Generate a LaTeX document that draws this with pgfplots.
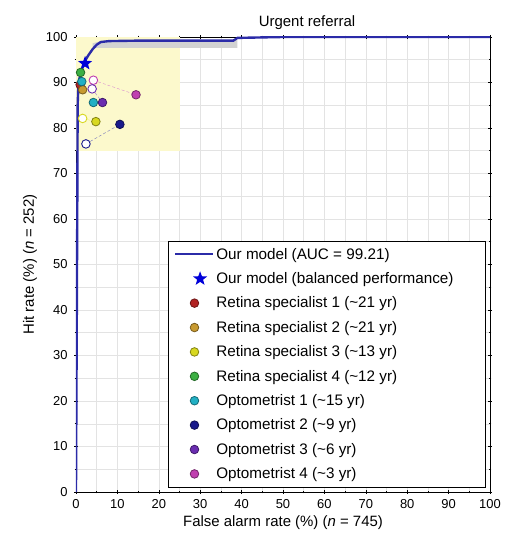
\documentclass[border=0pt]{standalone}
\usepackage{fontspec}
\setmainfont{Liberation Sans}
\usepackage{pgfplots}
\pgfplotsset{compat=1.18}
\usetikzlibrary{shapes.geometric,calc}

\definecolor{roc}{HTML}{2B2BA8}
\definecolor{rs1}{HTML}{B22222}
\definecolor{rs2}{HTML}{C89A30}
\definecolor{rs3}{HTML}{D8D820}
\definecolor{rs4}{HTML}{3CB043}
\definecolor{op1}{HTML}{22B0C4}
\definecolor{op2}{HTML}{1A1A8C}
\definecolor{op3}{HTML}{6A2DB0}
\definecolor{op4}{HTML}{C040B0}
\definecolor{inset}{HTML}{FCF9CC}

\pgfdeclareplotmark{fstar}{%
  \node[star,star points=5,star point ratio=2.4,minimum size=15pt,
        inner sep=0pt,draw=none,fill=blue!85!black]{};}

\pgfplotsset{
  expert/.style={only marks,mark=*,mark size=4.3pt,
    mark options={fill=#1,draw=#1!60!black,line width=0.8pt}},
  openexp/.style={only marks,mark=*,mark size=4.3pt,forget plot,
    mark options={fill=white,draw=#1,line width=0.9pt}},
  link/.style={densely dashed,thin,#1!60,forget plot},
}

\begin{document}
\begin{tikzpicture}[x=1bp,y=1bp]
\begin{axis}[
  scale only axis,
  width=414bp, height=455bp,
  xmin=0, xmax=100, ymin=0, ymax=100,
  xtick={0,10,...,100}, ytick={0,10,...,100},
  minor tick num=1,
  grid=both,
  major grid style={gray!22, line width=0.5pt},
  minor grid style={gray!22, line width=0.5pt},
  tick align=center,
  major tick length=4pt, minor tick length=3pt,
  tick style={black, line width=0.6pt},
  axis line style={black, line width=0.6pt},
  tick label style={font=\fontsize{13}{15}\selectfont},
  xticklabel style={yshift=-2bp},
  yticklabel style={xshift=-3bp},
  /pgf/number format/assume math mode=true,
  title={Urgent referral},
  title style={font=\fontsize{15}{17}\selectfont, xshift=24bp, yshift=-2bp},
  xlabel={False alarm rate (\%) (\textit{n} = 745)},
  ylabel={Hit rate (\%) (\textit{n} = 252)},
  label style={font=\fontsize{15}{17}\selectfont},
  ylabel style={yshift=2bp},
  legend cell align=left,
  legend style={at={(0.99,0.01)}, anchor=south east,
    draw=black, line width=0.6pt, fill=white,
    font=\fontsize{15.3}{17}\selectfont,
    row sep=7.9pt, inner xsep=6pt, inner ysep=5pt},
  legend image code/.code={%
    \draw[mark repeat=2,mark phase=2,#1]
      plot coordinates {(0bp,0bp) (19bp,0bp) (38bp,0bp)};},
  legend image post style={line width=1.8pt},
]
% inset region and confidence band
\addplot[fill=inset, draw=none, forget plot] coordinates {(0,75) (25,75) (25,100) (0,100)} -- cycle;
\addplot[fill=gray!35, draw=none, forget plot] coordinates {(4,97.6) (39,97.6) (39,99.3) (6,99.1) (4,98.6)} -- cycle;

% links between paired reads
\addplot[link=op4] coordinates {(4.2,90.5) (14.5,87.3)};
\addplot[link=op2] coordinates {(2.4,76.5) (10.6,80.8)};
\addplot[link=rs3] coordinates {(1.6,82.1) (4.8,81.4)};
\addplot[link=op3] coordinates {(3.9,88.6) (6.4,85.6)};

% open markers
\addplot[openexp=op4] coordinates {(4.2,90.5)};
\addplot[openexp=op3] coordinates {(3.9,88.6)};
\addplot[openexp=rs3] coordinates {(1.6,82.1)};
\addplot[openexp=op2] coordinates {(2.4,76.5)};

% ROC curve
\addplot[roc, line width=2.4pt] coordinates {
  (0,0) (0.3,60) (0.4,85) (0.6,90) (1.0,91.5) (1.5,93) (2,94.5) (3,96)
  (4,97.3) (5,98.3) (6,98.9) (8,99.1) (15,99.2) (38,99.2) (39,99.8)
  (50,100) (100,100)};
\addlegendentry{Our model (AUC = 99.21)}

\addplot[only marks, mark=fstar] coordinates {(2.2,94.2)};
\addlegendentry{Our model (balanced performance)\hspace*{24bp}}

\addplot[expert=rs1] coordinates {(1.0,89.5)};
\addlegendentry{Retina specialist 1 (\textasciitilde21 yr)}
\addplot[expert=rs2] coordinates {(1.6,88.4)};
\addlegendentry{Retina specialist 2 (\textasciitilde21 yr)}
\addplot[expert=rs3] coordinates {(4.8,81.4)};
\addlegendentry{Retina specialist 3 (\textasciitilde13 yr)}
\addplot[expert=rs4] coordinates {(1.1,92.2)};
\addlegendentry{Retina specialist 4 (\textasciitilde12 yr)}
\addplot[expert=op1] coordinates {(1.4,90.2) (4.2,85.6)};
\addlegendentry{Optometrist 1 (\textasciitilde15 yr)}
\addplot[expert=op2] coordinates {(10.6,80.8)};
\addlegendentry{Optometrist 2 (\textasciitilde9 yr)}
\addplot[expert=op3] coordinates {(6.4,85.6)};
\addlegendentry{Optometrist 3 (\textasciitilde6 yr)}
\addplot[expert=op4] coordinates {(14.5,87.3)};
\addlegendentry{Optometrist 4 (\textasciitilde3 yr)}
\end{axis}
\pgfresetboundingbox
\path[use as bounding box] ($(current axis.south west)+(-76bp,-55bp)$)
  rectangle ($(current axis.north east)+(15bp,37bp)$);
\end{tikzpicture}
\end{document}
